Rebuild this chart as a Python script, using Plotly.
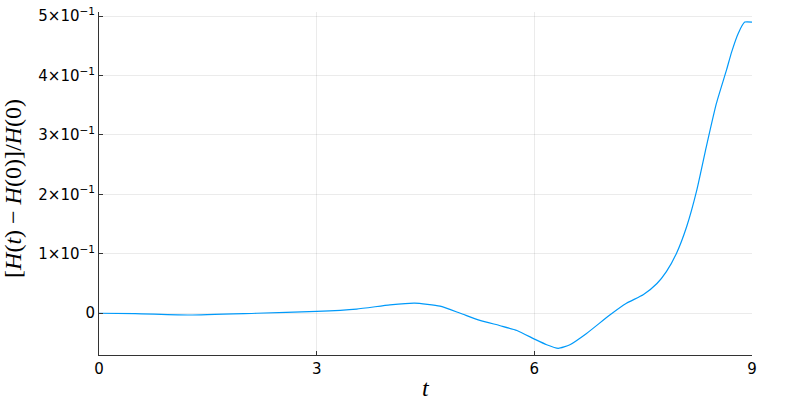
import plotly.graph_objects as go

t_vals = [0.0, 0.5, 1.25, 2.17, 3.0, 3.55, 4.01, 4.35, 4.70, 4.98, 5.25, 5.53, 5.76, 6.01,
          6.17, 6.33, 6.49, 6.72, 7.04, 7.27, 7.50, 7.69, 7.82, 7.96, 8.10, 8.24, 8.37,
          8.51, 8.65, 8.72, 8.81, 8.90, 9.0]
h_vals = [0.0, -0.0005, -0.003, 0.0, 0.003, 0.007, 0.014, 0.017, 0.012, 0.0, -0.012, -0.021,
          -0.029, -0.044, -0.053, -0.059, -0.053, -0.034, -0.003, 0.0168, 0.031, 0.050,
          0.070, 0.101, 0.146, 0.2076, 0.280, 0.3535, 0.41, 0.440, 0.471, 0.490, 0.490]

x_ticks = [0, 3, 6, 9]
y_ticks = [0, 0.1, 0.2, 0.3, 0.4, 0.5]
y_ticktext = ["0", "1×10<sup>−1</sup>", "2×10<sup>−1</sup>", "3×10<sup>−1</sup>",
              "4×10<sup>−1</sup>", "5×10<sup>−1</sup>"]
x_title = "<i>t</i>"
y_title = "[<i>H</i>(<i>t</i>) − <i>H</i>(0)]/<i>H</i>(0)"

fig = go.Figure()
fig.add_trace(go.Scatter(x=t_vals, y=h_vals, mode="lines",
                         line=dict(color="#009AFA", width=1.2, shape="spline", smoothing=0.5),
                         showlegend=False))

axis_common = dict(showgrid=True, gridcolor="rgba(0,0,0,0.08)", gridwidth=1, automargin=False,
                   showline=True, linecolor="#333", linewidth=1, ticks="inside", ticklen=4,
                   tickcolor="#333", zeroline=False,
                   tickfont=dict(family="DejaVu Sans", size=15, color="black"))

fig.update_layout(
    width=800, height=400,
    margin=dict(l=99, r=48, t=12, b=45),
    plot_bgcolor="white", paper_bgcolor="white",
    xaxis=dict(range=[0, 9], tickvals=x_ticks, ticktext=[str(v) for v in x_ticks], **axis_common),
    yaxis=dict(range=[-0.0703, 0.507], tickvals=y_ticks, ticktext=y_ticktext, **axis_common),
    annotations=[
        dict(text=x_title, xref="paper", yref="paper", x=0.5, y=-0.095, showarrow=False,
             xanchor="center", yanchor="middle",
             font=dict(family="Liberation Serif", size=24, color="black")),
        dict(text=y_title, xref="paper", yref="paper", x=-0.1317, y=0.487, showarrow=False,
             textangle=-90, xanchor="center", yanchor="middle",
             font=dict(family="Liberation Serif", size=24, color="black")),
    ],
)

fig.write_html("out.html", config={"displayModeBar": False},
               post_script="document.body.style.margin='0px';")
